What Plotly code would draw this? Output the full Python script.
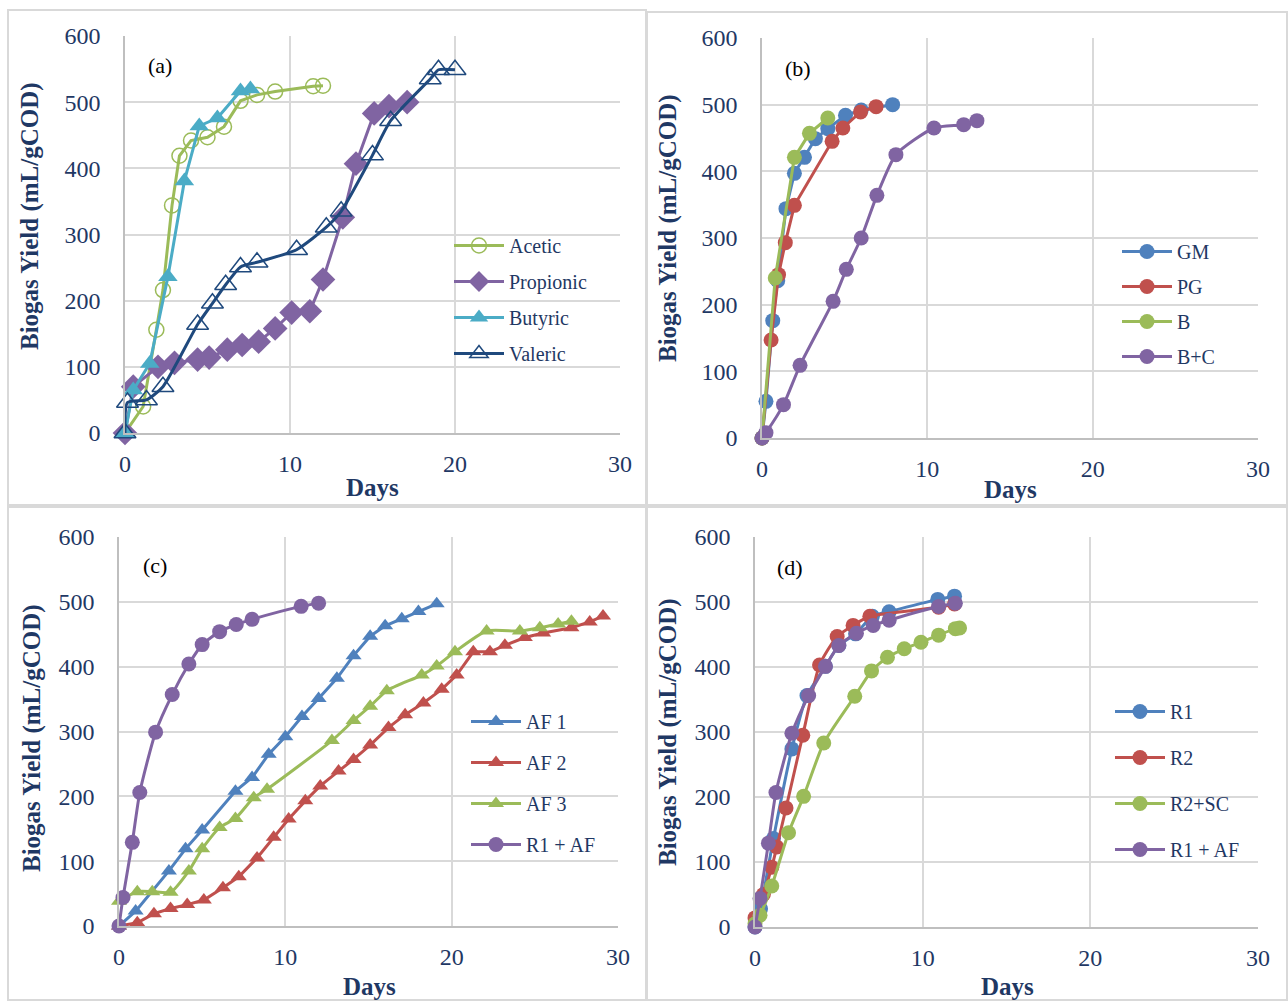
import plotly.graph_objects as go

W, H = 1288, 1001
NAVY = "#1F3864"
GRID = "#D9D9D9"
SERIF = "Liberation Serif, Times New Roman, serif"

GREEN = "#9BBB59"; PURPLE = "#8064A2"; CYAN = "#4BACC6"; DARK = "#1F497D"
BLUE = "#4F81BD"; RED = "#C0504D"

# ---------------- Panel (a) ----------------
acetic_x = [0, 1.1, 1.9, 2.3, 2.85, 3.3, 4.0, 5.0, 6.0, 7.0, 8.0, 9.1, 11.4, 12.0]
acetic_y = [0, 40, 156, 216, 344, 419, 442, 447, 463, 502, 511, 516, 524, 525]
propionic_x = [0, 0.5, 2.0, 3.0, 4.4, 5.1, 6.2, 7.1, 8.1, 9.1, 10.1, 11.2, 12.0, 13.2, 14.0, 15.1, 16.0, 17.1]
propionic_y = [0, 70, 100, 106, 111, 114, 126, 133, 138, 158, 182, 184, 232, 326, 407, 483, 494, 500]
butyric_x = [0, 0.5, 1.5, 2.6, 3.6, 4.5, 5.6, 7.0, 7.6]
butyric_y = [0, 65, 105, 236, 381, 464, 476, 517, 520]
valeric_x = [0, 0.15, 1.3, 2.3, 4.4, 5.3, 6.1, 7.0, 8.0, 10.4, 12.2, 13.1, 15.0, 16.1, 18.5, 19.0, 20.0]
valeric_y = [0, 46, 50, 70, 164, 196, 224, 251, 258, 277, 311, 335, 420, 472, 535, 549, 549]

# ---------------- Panel (b) ----------------
gm_x = [0, 0.24, 0.65, 0.95, 1.45, 1.96, 2.57, 3.23, 3.98, 5.05, 6.0, 7.9]
gm_y = [0, 55, 176, 236, 344, 397, 421, 449, 464, 484, 492, 500]
pg_x = [0, 0.55, 1.0, 1.41, 1.96, 4.24, 4.89, 5.96, 6.9]
pg_y = [0, 147, 245, 293, 349, 445, 465, 489, 497]
b_x = [0, 0.8, 1.96, 2.87, 3.98]
b_y = [0, 240, 421, 457, 480]
bc_x = [0, 0.24, 1.3, 2.3, 4.3, 5.1, 6.0, 6.95, 8.1, 10.4, 12.2, 13.0]
bc_y = [0, 8, 50, 109, 205, 253, 300, 364, 425, 465, 470, 476]

# ---------------- Panel (c) ----------------
af1_x = [0, 1, 3, 4, 5, 7, 8, 9, 10, 11, 12, 13.1, 14.1, 15.1, 16, 17, 18, 19.1]
af1_y = [0, 23, 85, 119, 148, 208, 229, 265, 292, 323, 351, 382, 417, 447, 463, 474, 485, 497]
af2_x = [0, 1.1, 2.1, 3.1, 4.1, 5.1, 6.25, 7.2, 8.3, 9.3, 10.2, 11.2, 12.1, 13.2, 14.1, 15.1, 16.2, 17.2,
         18.3, 19.4, 20.3, 21.3, 22.3, 23.2, 24.4, 25.5, 27.2, 28.3, 29.1]
af2_y = [0, 5, 19, 27, 33, 40, 59, 76, 105, 137, 165, 193, 216, 239, 257, 279, 306, 326,
         344, 365, 387, 423, 423, 433, 445, 452, 460, 469, 478]
af3_x = [0, 1.1, 2.0, 3.1, 4.2, 5.0, 6.05, 7.0, 8.1, 8.9, 12.8, 14.1, 15.1, 16.1, 18.2, 19.1, 20.2,
         22.1, 24.1, 25.3, 26.4, 27.2]
af3_y = [38, 53, 53, 52, 85, 119, 152, 166, 198, 211, 286, 317, 339, 363, 387, 401, 423,
         455, 455, 460, 466, 470]
r1af_c_x = [0, 0.24, 0.8, 1.25, 2.2, 3.2, 4.2, 5.0, 6.05, 7.05, 8.0, 10.95, 12.0]
r1af_c_y = [0, 44, 129, 206, 299, 357, 404, 434, 454, 465, 473, 493, 498]

# ---------------- Panel (d) ----------------
r1_x = [0, 0.33, 1.1, 2.2, 3.1, 4.2, 5.0, 6.0, 7.0, 8.0, 10.9, 11.9]
r1_y = [0, 28, 136, 274, 356, 401, 433, 451, 478, 485, 504, 509]
r2_x = [0, 0.5, 1.0, 1.3, 1.85, 2.85, 3.85, 4.9, 5.85, 6.85, 10.95, 11.9]
r2_y = [14, 50, 92, 123, 183, 295, 403, 447, 464, 478, 492, 497]
r2sc_x = [0, 0.3, 1.0, 2.0, 2.9, 4.1, 5.95, 6.95, 7.9, 8.9, 9.9, 10.95, 11.95, 12.2]
r2sc_y = [5, 18, 63, 145, 201, 283, 355, 394, 415, 428, 438, 449, 459, 460]
r1af_d_x = [0, 0.3, 0.8, 1.25, 2.2, 3.2, 4.2, 5.0, 6.05, 7.05, 8.0, 10.95, 11.95]
r1af_d_y = [0, 44, 129, 207, 298, 356, 401, 433, 452, 464, 472, 493, 498]

x_ticks = [0, 10, 20, 30]
y_ticks = [0, 100, 200, 300, 400, 500, 600]

fig = go.Figure()

def add(x, y, name, color, symbol, size, ax, legend, spline=False, open_marker=False, lw=3):
    line = dict(color=color, width=lw)
    if spline:
        line.update(shape="spline", smoothing=0.6)
    if open_marker:
        marker = dict(symbol=symbol + "-open", size=size, color=color, line=dict(color=color, width=1.5))
    else:
        marker = dict(symbol=symbol, size=size, color=color, line=dict(width=0))
    fig.add_trace(go.Scatter(x=x, y=y, name=name, mode="lines+markers", line=line, marker=marker,
                             xaxis="x" + ax, yaxis="y" + ax, legend=legend, legendgroup=name,
                             cliponaxis=False))

# panel a
add(acetic_x, acetic_y, "Acetic", GREEN, "circle", 15, "", "legend", open_marker=True)
add(propionic_x, propionic_y, "Propionic", PURPLE, "diamond", 19, "", "legend")
add(butyric_x, butyric_y, "Butyric", CYAN, "triangle-up", 17, "", "legend")
add(valeric_x, valeric_y, "Valeric", DARK, "triangle-up", 19, "", "legend", spline=True, open_marker=True)
# panel b
add(gm_x, gm_y, "GM", BLUE, "circle", 15, "2", "legend2")
add(pg_x, pg_y, "PG", RED, "circle", 15, "2", "legend2")
add(b_x, b_y, "B", GREEN, "circle", 15, "2", "legend2")
add(bc_x, bc_y, "B+C", PURPLE, "circle", 15, "2", "legend2", spline=True)
# panel c
add(af1_x, af1_y, "AF 1", BLUE, "triangle-up", 14, "3", "legend3")
add(af2_x, af2_y, "AF 2", RED, "triangle-up", 14, "3", "legend3")
add(af3_x, af3_y, "AF 3", GREEN, "triangle-up", 14, "3", "legend3", spline=True)
add(r1af_c_x, r1af_c_y, "R1 + AF", PURPLE, "circle", 15, "3", "legend3", spline=True)
# panel d
add(r1_x, r1_y, "R1", BLUE, "circle", 15, "4", "legend4", spline=True)
add(r2_x, r2_y, "R2", RED, "circle", 15, "4", "legend4", spline=True)
add(r2sc_x, r2sc_y, "R2+SC", GREEN, "circle", 15, "4", "legend4", spline=True)
add(r1af_d_x, r1af_d_y, "R1 + AF", PURPLE, "circle", 15, "4", "legend4", spline=True)

def px(v): return v / W
def py(v): return 1 - v / H

panels = {
    "": dict(x=(125, 620), y=(36, 433), label="(a)", lab=(160, 66), ytitle=(30, 216), xtitle=(372, 487),
             leg=(449, 226), box=(8, 10, 646, 505)),
    "2": dict(x=(762, 1258), y=(38, 438), label="(b)", lab=(798, 68), ytitle=(668, 228), xtitle=(1010, 489),
              leg=(1117, 232), box=(647, 12, 1287, 505)),
    "3": dict(x=(119, 618), y=(537, 926), label="(c)", lab=(155, 565), ytitle=(32, 738), xtitle=(369, 986),
              leg=(466, 702), box=(8, 507, 646, 1000)),
    "4": dict(x=(755, 1258), y=(537, 927), label="(d)", lab=(790, 567), ytitle=(668, 732), xtitle=(1007, 986),
              leg=(1110, 692), box=(647, 507, 1287, 1000)),
}

layout = dict(width=W, height=H, margin=dict(l=0, r=0, t=0, b=0, pad=0, autoexpand=False),
              paper_bgcolor="white", plot_bgcolor="white", font=dict(family=SERIF, color=NAVY),
              shapes=[], annotations=[])
gaps = {"": 7, "2": 6, "3": 12, "4": 17}
for k, p in panels.items():
    xa = dict(domain=[px(p["x"][0]), px(p["x"][1])], range=[0, 30], tickvals=x_ticks, showgrid=True,
              gridcolor=GRID, gridwidth=2, zeroline=False, showline=True, linecolor="#BFBFBF", linewidth=1.5,
              tickfont=dict(family=SERIF, size=24, color=NAVY), ticks="", ticklabelstandoff=8,
              anchor="y" + k, fixedrange=True, automargin=False)
    ya = dict(domain=[py(p["y"][1]), py(p["y"][0])], range=[0, 600], tickvals=y_ticks, showgrid=True,
              gridcolor=GRID, gridwidth=2, zeroline=False, showline=True, linecolor="#BFBFBF", linewidth=1.5,
              tickfont=dict(family=SERIF, size=24, color=NAVY), ticks="", ticklabelstandoff=18,
              anchor="x" + k, fixedrange=True, automargin=False)
    layout["xaxis" + k] = xa
    layout["yaxis" + k] = ya
    b = p["box"]
    layout["shapes"].append(dict(type="rect", xref="paper", yref="paper", x0=px(b[0]), x1=px(b[2]),
                                 y0=py(b[3]), y1=py(b[1]), line=dict(color="#D9D9D9", width=2), layer="below"))
    layout["annotations"].append(dict(text=p["label"], xref="paper", yref="paper", x=px(p["lab"][0]),
                                      y=py(p["lab"][1]), showarrow=False, font=dict(size=22, color="black"),
                                      xanchor="center", yanchor="middle"))
    layout["annotations"].append(dict(text="<b>Biogas Yield (mL/gCOD)</b>", xref="paper", yref="paper",
                                      x=px(p["ytitle"][0]), y=py(p["ytitle"][1]), textangle=-90,
                                      showarrow=False, font=dict(size=25, color=NAVY),
                                      xanchor="center", yanchor="middle"))
    layout["annotations"].append(dict(text="<b>Days</b>", xref="paper", yref="paper", x=px(p["xtitle"][0]),
                                      y=py(p["xtitle"][1]), showarrow=False, font=dict(size=25, color=NAVY),
                                      xanchor="center", yanchor="middle"))
    legname = "legend" if k == "" else "legend" + k
    layout[legname] = dict(x=px(p["leg"][0]), y=py(p["leg"][1]), xanchor="left", yanchor="top",
                           bgcolor="rgba(255,255,255,0)", font=dict(family=SERIF, size=20, color=NAVY),
                           itemwidth=50, tracegroupgap=gaps[k], traceorder="grouped")

fig.update_layout(**layout)
fig.write_html("out.html", config={"displayModeBar": False},
               post_script="document.body.style.margin='0';document.body.style.overflow='hidden';")
